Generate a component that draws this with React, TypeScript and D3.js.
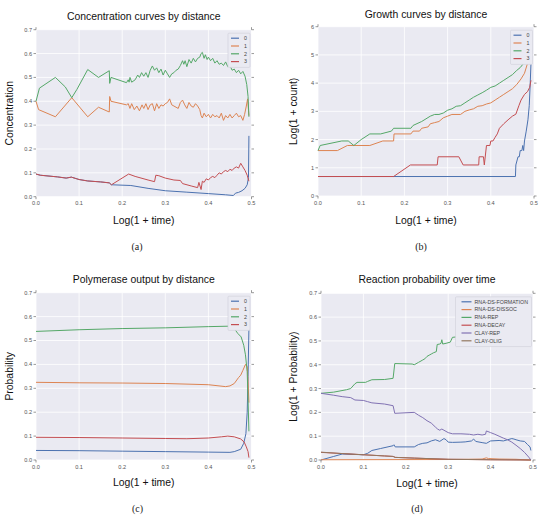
import * as d3 from 'd3'
import React from 'react'

type Pt = [number, number]

// colours (seaborn "deep")
const palette = ['#4C72B0', '#DD8452', '#55A868', '#C44E52', '#8172B3', '#937860']

const timeTicks = [0, 0.1, 0.2, 0.3, 0.4, 0.5]
const probTicks = [0, 0.1, 0.2, 0.3, 0.4, 0.5, 0.6, 0.7]
const countTicks = [0, 1, 2, 3, 4, 5, 6]
const distanceLabels = ['0', '1', '2', '3']
const reactionLabels = ['RNA-DS-FORMATION', 'RNA-DS-DISSOC', 'RNA-REP', 'RNA-DECAY', 'CLAY-REP', 'CLAY-OLIG']

// (a) concentration curves
const conc0: Pt[] = [[0, 0.095], [0.01, 0.09], [0.05, 0.083], [0.07, 0.078], [0.082, 0.082], [0.1, 0.072], [0.12, 0.066], [0.15, 0.062], [0.17, 0.058], [0.175, 0.05], [0.22, 0.047], [0.26, 0.035], [0.3, 0.025], [0.35, 0.019], [0.4, 0.013], [0.44, 0.008], [0.458, 0.005], [0.463, 0.015], [0.47, 0.018], [0.478, 0.025], [0.485, 0.035], [0.49, 0.05], [0.493, 0.08], [0.494, 0.255]]
const conc1: Pt[] = [[0, 0.4], [0.006, 0.365], [0.045, 0.335], [0.083, 0.415], [0.12, 0.335], [0.145, 0.375], [0.17, 0.355], [0.171, 0.42], [0.174, 0.4], [0.21, 0.385], [0.214, 0.39], [0.218, 0.37], [0.222, 0.39], [0.228, 0.365], [0.234, 0.38], [0.24, 0.36], [0.246, 0.385], [0.25, 0.37], [0.255, 0.39], [0.26, 0.365], [0.265, 0.385], [0.27, 0.39], [0.275, 0.36], [0.28, 0.39], [0.285, 0.37], [0.29, 0.385], [0.295, 0.38], [0.3, 0.39], [0.305, 0.395], [0.31, 0.41], [0.315, 0.385], [0.32, 0.38], [0.325, 0.375], [0.33, 0.37], [0.335, 0.395], [0.34, 0.405], [0.345, 0.385], [0.35, 0.37], [0.355, 0.395], [0.36, 0.38], [0.365, 0.375], [0.37, 0.39], [0.375, 0.38], [0.38, 0.365], [0.383, 0.34], [0.386, 0.33], [0.39, 0.35], [0.395, 0.335], [0.4, 0.345], [0.405, 0.33], [0.41, 0.345], [0.415, 0.335], [0.42, 0.34], [0.425, 0.33], [0.43, 0.35], [0.435, 0.32], [0.44, 0.34], [0.445, 0.33], [0.45, 0.345], [0.455, 0.33], [0.46, 0.34], [0.465, 0.35], [0.47, 0.335], [0.475, 0.34], [0.48, 0.32], [0.484, 0.345], [0.488, 0.38], [0.491, 0.41], [0.494, 0.34]]
const conc2: Pt[] = [[0, 0.4], [0.008, 0.455], [0.045, 0.5], [0.068, 0.46], [0.083, 0.415], [0.095, 0.45], [0.12, 0.533], [0.145, 0.5], [0.17, 0.528], [0.171, 0.475], [0.174, 0.5], [0.21, 0.478], [0.214, 0.49], [0.216, 0.48], [0.218, 0.5], [0.222, 0.48], [0.23, 0.49], [0.236, 0.51], [0.24, 0.5], [0.245, 0.52], [0.25, 0.505], [0.255, 0.52], [0.26, 0.5], [0.265, 0.53], [0.27, 0.548], [0.275, 0.53], [0.28, 0.54], [0.285, 0.52], [0.29, 0.535], [0.295, 0.51], [0.3, 0.53], [0.305, 0.515], [0.31, 0.5], [0.315, 0.515], [0.32, 0.52], [0.325, 0.53], [0.33, 0.535], [0.335, 0.55], [0.34, 0.57], [0.343, 0.555], [0.346, 0.57], [0.35, 0.545], [0.355, 0.575], [0.36, 0.56], [0.365, 0.58], [0.37, 0.565], [0.375, 0.58], [0.38, 0.585], [0.383, 0.6], [0.386, 0.605], [0.39, 0.58], [0.393, 0.595], [0.397, 0.575], [0.4, 0.585], [0.405, 0.57], [0.41, 0.58], [0.415, 0.56], [0.42, 0.57], [0.425, 0.555], [0.43, 0.56], [0.435, 0.55], [0.44, 0.565], [0.445, 0.545], [0.45, 0.55], [0.455, 0.53], [0.46, 0.535], [0.465, 0.52], [0.47, 0.53], [0.475, 0.515], [0.48, 0.525], [0.485, 0.505], [0.489, 0.47], [0.492, 0.42], [0.494, 0.335]]
const conc3: Pt[] = [[0, 0.095], [0.01, 0.09], [0.05, 0.083], [0.07, 0.078], [0.082, 0.082], [0.1, 0.072], [0.12, 0.066], [0.15, 0.062], [0.17, 0.058], [0.175, 0.05], [0.215, 0.095], [0.23, 0.085], [0.26, 0.07], [0.275, 0.063], [0.278, 0.09], [0.285, 0.088], [0.3, 0.078], [0.32, 0.07], [0.335, 0.068], [0.34, 0.055], [0.36, 0.045], [0.375, 0.038], [0.378, 0.06], [0.383, 0.03], [0.386, 0.065], [0.39, 0.06], [0.395, 0.075], [0.4, 0.07], [0.405, 0.08], [0.41, 0.085], [0.415, 0.08], [0.42, 0.09], [0.425, 0.1], [0.43, 0.095], [0.435, 0.105], [0.44, 0.11], [0.445, 0.105], [0.45, 0.115], [0.455, 0.11], [0.46, 0.12], [0.465, 0.125], [0.47, 0.12], [0.475, 0.14], [0.48, 0.125], [0.485, 0.11], [0.49, 0.09], [0.494, 0.065]]

// (b) growth curves
const grow0: Pt[] = [[0, 0.69], [0.457, 0.69], [0.458, 1.1], [0.463, 1.39], [0.466, 1.39], [0.468, 1.61], [0.472, 1.61], [0.474, 1.79], [0.476, 1.61], [0.478, 1.95], [0.482, 2.3], [0.486, 2.7], [0.489, 3.2], [0.491, 3.9], [0.493, 4.7]]
const grow1: Pt[] = [[0, 1.61], [0.045, 1.61], [0.068, 1.79], [0.12, 1.79], [0.15, 1.95], [0.175, 1.95], [0.176, 2.2], [0.215, 2.2], [0.22, 2.3], [0.235, 2.3], [0.24, 2.4], [0.255, 2.45], [0.26, 2.56], [0.27, 2.6], [0.28, 2.64], [0.29, 2.77], [0.3, 2.83], [0.31, 2.89], [0.33, 2.89], [0.34, 3.0], [0.35, 3.05], [0.36, 3.09], [0.37, 3.18], [0.38, 3.2], [0.39, 3.26], [0.4, 3.3], [0.41, 3.4], [0.42, 3.5], [0.43, 3.6], [0.44, 3.7], [0.45, 3.8], [0.46, 3.95], [0.47, 4.15], [0.478, 4.35], [0.485, 4.7]]
const grow2: Pt[] = [[0, 1.61], [0.005, 1.79], [0.055, 1.95], [0.07, 1.95], [0.083, 1.79], [0.1, 2.0], [0.12, 2.2], [0.145, 2.2], [0.17, 2.3], [0.175, 2.4], [0.215, 2.4], [0.22, 2.5], [0.24, 2.64], [0.26, 2.83], [0.27, 2.89], [0.28, 2.89], [0.29, 2.94], [0.3, 3.04], [0.31, 3.09], [0.32, 3.18], [0.33, 3.2], [0.34, 3.3], [0.35, 3.4], [0.36, 3.5], [0.37, 3.58], [0.38, 3.66], [0.39, 3.75], [0.4, 3.85], [0.41, 3.9], [0.42, 4.0], [0.43, 4.1], [0.44, 4.2], [0.45, 4.3], [0.46, 4.45], [0.468, 4.55], [0.476, 4.7]]
const grow3: Pt[] = [[0, 0.69], [0.175, 0.69], [0.214, 1.1], [0.276, 1.1], [0.278, 1.39], [0.326, 1.39], [0.336, 1.1], [0.372, 1.1], [0.373, 1.39], [0.383, 1.39], [0.385, 1.1], [0.39, 1.79], [0.398, 1.79], [0.4, 1.95], [0.405, 1.95], [0.41, 2.08], [0.415, 2.2], [0.42, 2.4], [0.43, 2.56], [0.44, 2.7], [0.45, 2.83], [0.458, 2.9], [0.465, 3.2], [0.47, 3.4], [0.478, 3.6], [0.485, 3.7], [0.49, 3.85], [0.493, 4.1]]

// (c) polymerase output
const poly0: Pt[] = [[0, 0.04], [0.1, 0.039], [0.2, 0.037], [0.3, 0.035], [0.4, 0.033], [0.45, 0.032], [0.46, 0.035], [0.475, 0.045], [0.482, 0.07], [0.487, 0.11], [0.49, 0.2], [0.492, 0.35], [0.494, 0.55]]
const poly1: Pt[] = [[0, 0.325], [0.1, 0.323], [0.2, 0.322], [0.3, 0.32], [0.4, 0.315], [0.44, 0.307], [0.45, 0.31], [0.46, 0.32], [0.47, 0.345], [0.475, 0.355], [0.48, 0.375], [0.486, 0.4], [0.49, 0.39], [0.492, 0.33], [0.494, 0.24]]
const poly2: Pt[] = [[0, 0.538], [0.1, 0.545], [0.2, 0.55], [0.3, 0.553], [0.4, 0.558], [0.45, 0.56], [0.46, 0.55], [0.468, 0.53], [0.476, 0.515], [0.482, 0.48], [0.486, 0.44], [0.49, 0.37], [0.492, 0.25], [0.494, 0.12]]
const poly3: Pt[] = [[0, 0.095], [0.1, 0.094], [0.2, 0.092], [0.3, 0.09], [0.35, 0.089], [0.4, 0.092], [0.43, 0.097], [0.445, 0.1], [0.46, 0.097], [0.475, 0.088], [0.483, 0.075], [0.488, 0.055], [0.492, 0.035], [0.494, 0.01]]

// (d) reaction probability
const reactDsForm: Pt[] = [[0, 0], [0.03, 0.015], [0.05, 0.025], [0.1, 0.022], [0.11, 0.028], [0.12, 0.04], [0.14, 0.048], [0.17, 0.06], [0.172, 0.064], [0.175, 0.055], [0.22, 0.055], [0.23, 0.065], [0.24, 0.07], [0.25, 0.072], [0.26, 0.08], [0.27, 0.085], [0.28, 0.078], [0.29, 0.09], [0.295, 0.085], [0.3, 0.075], [0.31, 0.074], [0.33, 0.075], [0.34, 0.076], [0.355, 0.08], [0.36, 0.088], [0.365, 0.078], [0.38, 0.073], [0.39, 0.07], [0.4, 0.08], [0.42, 0.082], [0.43, 0.08], [0.44, 0.085], [0.45, 0.09], [0.455, 0.088], [0.46, 0.085], [0.47, 0.08], [0.48, 0.078], [0.487, 0.065], [0.493, 0.055], [0.495, 0.04]]
const reactDsDiss: Pt[] = [[0, 0.001], [0.3, 0.002], [0.38, 0.004], [0.39, 0.009], [0.395, 0.006], [0.42, 0.004], [0.46, 0.003], [0.495, 0]]
const reactRep: Pt[] = [[0, 0.28], [0.03, 0.285], [0.06, 0.295], [0.07, 0.3], [0.08, 0.32], [0.085, 0.326], [0.105, 0.326], [0.11, 0.33], [0.12, 0.337], [0.15, 0.338], [0.17, 0.343], [0.174, 0.405], [0.215, 0.403], [0.22, 0.4], [0.23, 0.41], [0.24, 0.42], [0.245, 0.425], [0.25, 0.435], [0.255, 0.44], [0.26, 0.445], [0.265, 0.45], [0.272, 0.455], [0.274, 0.485], [0.28, 0.487], [0.283, 0.49], [0.285, 0.505], [0.287, 0.487], [0.295, 0.49], [0.305, 0.495], [0.31, 0.515], [0.32, 0.517], [0.33, 0.52], [0.36, 0.54], [0.4, 0.56], [0.45, 0.58], [0.49, 0.6]]
const reactDecay: Pt[] = [[0, 0.032], [0.05, 0.027], [0.1, 0.022], [0.15, 0.017], [0.17, 0.015], [0.175, 0.011], [0.22, 0.008], [0.3, 0.003], [0.4, 0.001], [0.495, 0]]
const reactClayRep: Pt[] = [[0, 0.28], [0.03, 0.272], [0.05, 0.266], [0.07, 0.262], [0.08, 0.252], [0.1, 0.25], [0.11, 0.245], [0.12, 0.24], [0.15, 0.235], [0.17, 0.228], [0.174, 0.196], [0.22, 0.2], [0.23, 0.188], [0.24, 0.178], [0.25, 0.165], [0.26, 0.155], [0.27, 0.138], [0.275, 0.13], [0.28, 0.125], [0.285, 0.13], [0.29, 0.125], [0.3, 0.115], [0.31, 0.11], [0.33, 0.11], [0.35, 0.108], [0.36, 0.105], [0.37, 0.108], [0.38, 0.105], [0.388, 0.108], [0.39, 0.122], [0.4, 0.115], [0.41, 0.108], [0.42, 0.1], [0.43, 0.092], [0.44, 0.085], [0.45, 0.075], [0.46, 0.062], [0.47, 0.048], [0.48, 0.032], [0.49, 0.012], [0.495, 0]]
const reactClayOlig: Pt[] = [[0, 0.033], [0.05, 0.027], [0.1, 0.022], [0.15, 0.017], [0.17, 0.015], [0.175, 0.011], [0.22, 0.008], [0.3, 0.003], [0.4, 0.001], [0.495, 0]]

interface PanelProps {
    x0: number
    x1: number
    top: number
    bottom: number
    yTicks: number[]
    yFmt: (v: number) => string
    title: string
    titleY: number
    xLabelY: number
    yLabel: string
    yLabelX: number
    caption: string
    captionX: number
    captionY: number
    series: Pt[][]
    labels: string[]
    legendWidth: number
    legendPad: number
    legendLine: number
    legendGap: number
}

const Panel = (p: PanelProps): JSX.Element => {
    const x = d3.scaleLinear().domain([0, 0.5]).range([p.x0, p.x1])
    const y = d3
        .scaleLinear()
        .domain([0, p.yTicks[p.yTicks.length - 1]])
        .range([p.bottom, p.top])
    const line = d3
        .line<Pt>()
        .x((d) => x(d[0]))
        .y((d) => y(d[1]))
    const cx = (p.x0 + p.x1) / 2
    const cy = (p.top + p.bottom) / 2
    const tickFont = { fontFamily: 'Liberation Sans, Arial, sans-serif', fontSize: 5.6, fill: '#555' }

    const rowH = 7.8
    const legH = p.labels.length * rowH + 3
    const legLeft = p.x1 - 1.5 - p.legendWidth
    const legTop = p.top + 3.5

    return (
        <g>
            <rect x={p.x0} y={p.top} width={p.x1 - p.x0} height={p.bottom - p.top} fill="#EAEAF2" />
            {/* grid */}
            {timeTicks.map((t) => (
                <line key={`gx${t}`} x1={x(t)} x2={x(t)} y1={p.top} y2={p.bottom} stroke="#fff" strokeWidth={0.8} />
            ))}
            {p.yTicks.map((t) => (
                <line key={`gy${t}`} x1={p.x0} x2={p.x1} y1={y(t)} y2={y(t)} stroke="#fff" strokeWidth={0.8} />
            ))}
            {/* ticks */}
            {p.yTicks.map((t) => (
                <g key={`ty${t}`} stroke="#555" strokeWidth={0.6}>
                    <line x1={p.x0 - 2.5} x2={p.x0} y1={y(t)} y2={y(t)} />
                    <line x1={p.x1} x2={p.x1 + 2.5} y1={y(t)} y2={y(t)} />
                </g>
            ))}
            {[0, 0.5].map((t) => (
                <g key={`tx${t}`} stroke="#555" strokeWidth={0.6}>
                    <line x1={x(t)} x2={x(t)} y1={p.bottom} y2={p.bottom + 2.5} />
                    <line x1={x(t)} x2={x(t)} y1={p.top - 2.5} y2={p.top} />
                </g>
            ))}
            {p.yTicks.map((t) => (
                <text key={`ly${t}`} x={p.x0 - 4} y={y(t)} dy="0.35em" textAnchor="end" style={tickFont}>
                    {p.yFmt(t)}
                </text>
            ))}
            {timeTicks.map((t) => (
                <text key={`lx${t}`} x={x(t)} y={p.bottom + 8.6} textAnchor="middle" style={tickFont}>
                    {t.toFixed(1)}
                </text>
            ))}
            {/* series */}
            {p.series.map((s, i) => (
                <path key={`s${i}`} d={line(s) || ''} fill="none" stroke={palette[i]} strokeWidth={1} strokeLinejoin="round" />
            ))}
            {/* legend */}
            <rect x={legLeft} y={legTop} width={p.legendWidth} height={legH} fill="#EAEAF2" stroke="#cfcfd8" strokeWidth={0.6} rx={1} />
            {p.labels.map((lab, i) => {
                const ly = legTop + 5 + i * rowH
                const lx = legLeft + p.legendPad
                return (
                    <g key={lab}>
                        <line x1={lx} x2={lx + p.legendLine} y1={ly} y2={ly} stroke={palette[i]} strokeWidth={1.2} />
                        <text x={lx + p.legendLine + p.legendGap} y={ly} dy="0.35em" style={{ ...tickFont, fontSize: 5.3, fill: '#444' }}>
                            {lab}
                        </text>
                    </g>
                )
            })}
            {/* titles */}
            <text x={cx} y={p.titleY} dy="0.35em" textAnchor="middle" fontFamily="Liberation Sans, Arial, sans-serif" fontSize={10.4} fill="#111">
                {p.title}
            </text>
            <text x={cx} y={p.xLabelY} dy="0.35em" textAnchor="middle" fontFamily="Liberation Sans, Arial, sans-serif" fontSize={10.4} fill="#111">
                Log(1 + time)
            </text>
            <text
                transform={`translate(${p.yLabelX},${cy}) rotate(-90)`}
                dy="0.35em"
                textAnchor="middle"
                fontFamily="Liberation Sans, Arial, sans-serif"
                fontSize={10.4}
                fill="#111"
            >
                {p.yLabel}
            </text>
            <text x={p.captionX} y={p.captionY} dy="0.35em" textAnchor="middle" fontFamily="Liberation Serif, Times New Roman, serif" fontSize={10} fill="#222">
                {p.caption}
            </text>
        </g>
    )
}

const fmt1 = (v: number) => v.toFixed(1)
const fmt0 = (v: number) => v.toFixed(0)

const App = (): JSX.Element => (
    <svg width={550} height={521} style={{ position: 'absolute', left: 0, top: 0, background: '#fff' }}>
        <Panel
            x0={36} x1={251.5} top={29.7} bottom={196.7}
            yTicks={probTicks} yFmt={fmt1}
            title="Concentration curves by distance" titleY={16} xLabelY={220}
            yLabel="Concentration" yLabelX={9.5}
            caption="(a)" captionX={137} captionY={246}
            series={[conc0, conc1, conc2, conc3]} labels={distanceLabels}
            legendWidth={22} legendPad={3} legendLine={8} legendGap={5}
        />
        <Panel
            x0={318} x1={534} top={26.7} bottom={196}
            yTicks={countTicks} yFmt={fmt0}
            title="Growth curves by distance" titleY={14} xLabelY={220}
            yLabel="Log(1 + count)" yLabelX={293.3}
            caption="(b)" captionX={421} captionY={246}
            series={[grow0, grow1, grow2, grow3]} labels={distanceLabels}
            legendWidth={22} legendPad={3} legendLine={8} legendGap={5}
        />
        <Panel
            x0={36} x1={251.5} top={292.7} bottom={460}
            yTicks={probTicks} yFmt={fmt1}
            title="Polymerase output by distance" titleY={279.3} xLabelY={482.7}
            yLabel="Probability" yLabelX={9.5}
            caption="(c)" captionX={137.5} captionY={508.3}
            series={[poly0, poly1, poly2, poly3]} labels={distanceLabels}
            legendWidth={22} legendPad={3} legendLine={8} legendGap={5}
        />
        <Panel
            x0={321} x1={533} top={293.3} bottom={460}
            yTicks={probTicks} yFmt={fmt1}
            title="Reaction probability over time" titleY={279.3} xLabelY={483.3}
            yLabel="Log(1 + Probability)" yLabelX={293.3}
            caption="(d)" captionX={417} captionY={508.3}
            series={[reactDsForm, reactDsDiss, reactRep, reactDecay, reactClayRep, reactClayOlig]} labels={reactionLabels}
            legendWidth={76} legendPad={6} legendLine={10} legendGap={3}
        />
    </svg>
)

export default App
